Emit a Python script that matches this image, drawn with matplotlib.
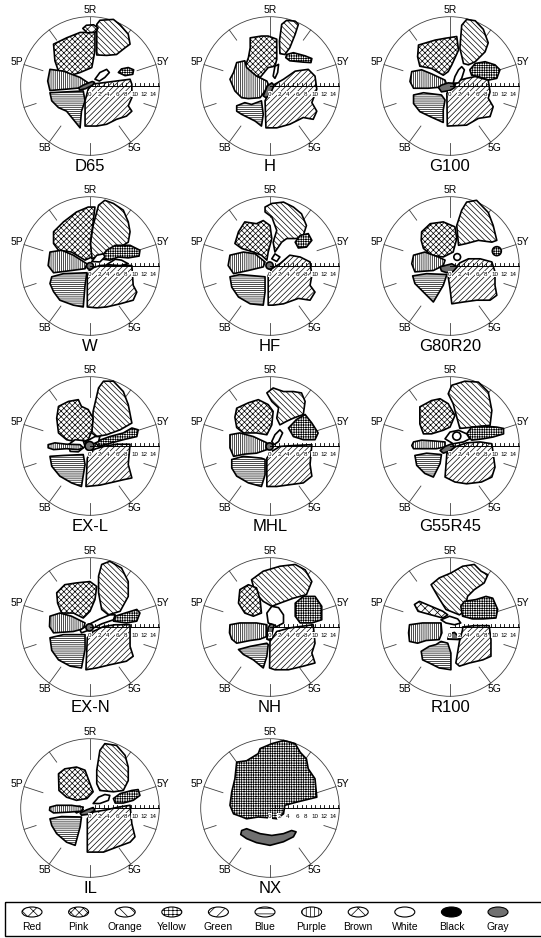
import numpy as np
import matplotlib
matplotlib.use('Agg')
import matplotlib.pyplot as plt
from matplotlib.patches import Polygon, Circle, Ellipse, Rectangle

plt.rcParams['font.family'] = ['Liberation Sans', 'DejaVu Sans']
plt.rcParams['hatch.linewidth'] = 0.5

# outer hue circle radius, in chroma units
R_MAX = 15.4

hue_labels = ['5R', '5Y', '5G', '5B', '5P']
hue_label_deg = [0, 72, 144, 216, 288]          # clockwise from the top
hue_tick_deg = list(range(0, 360, 36))
chroma_tick_values = list(range(1, 16))
chroma_label_values = [0, 2, 4, 6, 8, 10, 12, 14]

categories = ['Red', 'Pink', 'Orange', 'Yellow', 'Green', 'Blue',
              'Purple', 'Brown', 'White', 'Black', 'Gray']
hatch_of = {'Red': 'xxxx', 'Pink': 'xxxxxx', 'Orange': '\\' * 6, 'Yellow': '+' * 7,
            'Green': '/' * 6, 'Blue': '-' * 8, 'Purple': '|' * 8, 'Brown': 'xxx',
            'White': None, 'Black': None, 'Gray': None}
legend_hatch_of = {'Red': 'xxx', 'Pink': 'xxxx', 'Orange': '\\\\\\', 'Yellow': '++++',
                   'Green': '///', 'Blue': '---', 'Purple': '||||', 'Brown': 'xx',
                   'White': None, 'Black': None, 'Gray': None}
face_of = {'Black': 'black', 'Gray': '#707070'}

# regions per illuminant: (category, outline in chroma coordinates) or
# (category, (x, y, r)) for the small round ones
d65 = [
    ('Orange', [(1.5, 13.7), (2.2, 14.6), (5.2, 14.8), (6.7, 13.6), (8.5, 11.5), (8.9, 9.3),
                (7.8, 8.5), (5.9, 7.0), (3.7, 6.8), (1.5, 6.9)]),
    ('Pink', [(-8.1, 9.3), (-5.2, 10.7), (-2.2, 11.9), (1.1, 11.9), (1.1, 7.8), (0.4, 4.1),
              (-2.2, 3.0), (-4.8, 2.2), (-7.0, 3.3), (-7.8, 5.6)]),
    ('Red', [(-1.6, 12.8), (-0.8, 13.5), (0.8, 13.6), (1.8, 12.9), (1.2, 12.0), (-0.6, 11.8)]),
    ('Yellow', [(6.3, 3.0), (7.0, 3.8), (8.5, 4.1), (9.7, 3.6), (9.5, 2.6), (7.8, 2.3)]),
    ('Purple', [(-8.9, 3.7), (-5.9, 3.3), (-2.2, 1.9), (-0.4, 0.7), (-1.9, -0.4), (-5.2, -0.7),
                (-8.9, -1.0), (-9.4, 1.1)]),
    ('Blue', [(-8.9, -1.5), (-1.5, -1.1), (-1.1, -3.3), (-1.9, -5.6), (-2.2, -9.3), (-5.2, -5.6),
              (-7.0, -4.8), (-8.5, -3.3)]),
    ('Green', [(-0.4, -0.7), (0.4, 0.4), (8.9, 1.5), (9.3, 0.4), (9.3, -2.6), (8.5, -4.4),
               (9.3, -5.6), (8.1, -6.7), (5.9, -7.4), (3.7, -8.5), (1.5, -8.9), (-1.1, -8.9),
               (-1.1, -3.3)]),
    ('White', [(1.1, 1.5), (2.2, 3.0), (3.7, 3.7), (4.3, 3.0), (3.3, 1.9), (2.1, 1.1)]),
    ('Gray', [(-2.5, -0.4), (-1.5, 0.2), (0.5, 1.0), (1.0, 0.8), (0.6, 0.2), (-1.0, -0.6),
              (-2.3, -0.9)]),
]

h = [
    ('Orange', [(2.6, 13.7), (3.7, 14.6), (5.6, 14.4), (6.3, 13.7), (5.6, 11.5), (4.4, 8.5),
                (3.3, 7.0), (2.2, 7.2), (2.1, 10.0)]),
    ('Yellow', [(3.7, 7.0), (5.2, 7.4), (7.8, 6.7), (9.3, 6.1), (9.1, 5.2), (7.4, 5.3),
                (4.4, 5.6), (3.5, 6.3)]),
    ('Pink', [(-4.4, 10.7), (-1.9, 11.1), (-0.4, 11.1), (1.5, 10.4), (1.5, 5.9), (1.1, 4.4),
              (-0.4, 4.1), (-2.2, 1.9), (-4.1, 2.6), (-5.6, 4.1), (-4.8, 6.3), (-4.4, 8.5)]),
    ('Purple', [(-7.4, 5.2), (-5.6, 5.6), (-5.2, 4.1), (-3.0, 2.2), (-0.7, 1.1), (-0.4, 0.4),
                (-1.1, -1.1), (-2.2, -2.6), (-4.8, -2.8), (-6.3, -2.6), (-7.8, -1.1),
                (-8.9, 1.5), (-8.1, 3.0)]),
    ('Blue', [(-7.4, -4.4), (-5.6, -3.7), (-4.1, -4.1), (-1.9, -3.3), (-1.5, -6.3), (-1.9, -8.9),
              (-3.3, -7.8), (-6.3, -6.3), (-7.4, -5.6)]),
    ('Green', [(-1.1, -3.3), (0.4, 0.0), (3.0, 1.5), (5.6, 3.3), (8.5, 3.7), (10.0, 2.2),
               (10.4, -0.7), (9.3, -3.7), (10.4, -5.6), (9.6, -7.4), (7.4, -7.0), (4.4, -8.5),
               (1.5, -9.3), (-0.9, -9.3)]),
    ('White', [(0.7, 2.2), (1.1, 4.4), (1.9, 4.8), (1.7, 3.0), (1.1, 1.7)]),
    ('Gray', [(-1.5, -2.2), (-0.6, 0.0), (0.4, 0.7), (0.9, 0.2), (0.0, -2.0), (-0.9, -2.6)]),
]

g100 = [
    ('Orange', [(2.6, 13.5), (3.7, 14.8), (5.6, 14.5), (7.4, 12.6), (8.5, 9.6), (7.8, 7.6),
                (5.6, 5.4), (4.1, 4.7), (3.0, 5.0), (2.2, 8.4)]),
    ('Pink', [(-7.0, 9.1), (-3.3, 10.2), (-1.1, 10.6), (1.5, 11.0), (1.9, 8.0), (0.4, 4.7),
              (-0.4, 3.2), (-1.5, 2.4), (-4.1, 3.9), (-6.7, 4.4), (-7.2, 6.5)]),
    ('Yellow', [(4.4, 3.6), (5.6, 5.0), (7.8, 5.4), (10.0, 4.7), (11.1, 3.6), (10.4, 1.7),
                (8.5, 1.3), (6.3, 2.1), (4.8, 2.4)]),
    ('Purple', [(-8.5, 3.2), (-6.3, 3.6), (-4.1, 2.7), (-1.1, 1.3), (-0.7, 0.2), (-2.6, -0.3),
                (-4.8, -0.5), (-8.1, -0.5), (-8.9, 1.0)]),
    ('Blue', [(-8.1, -2.0), (-5.9, -1.5), (-1.9, -2.0), (-1.1, -3.1), (-1.5, -5.3), (-1.5, -8.1),
              (-4.4, -6.8), (-6.7, -5.7), (-8.1, -3.9)]),
    ('Green', [(-0.7, -1.6), (0.4, -0.3), (2.2, 1.3), (3.7, 1.7), (5.6, 2.1), (8.5, 1.3),
               (8.9, -1.3), (8.5, -2.7), (9.6, -4.6), (8.9, -6.8), (6.3, -7.2), (3.7, -8.7),
               (-0.6, -8.9)]),
    ('White', [(0.7, 0.6), (1.1, 2.1), (1.9, 3.6), (2.6, 4.3), (3.2, 3.6), (2.6, 1.7), (1.9, 0.7)]),
    ('Gray', [(-2.6, -0.3), (-1.9, 0.2), (-0.4, 0.7), (0.7, 0.6), (1.1, -0.3), (0.0, -1.0),
              (-1.9, -1.3)]),
]

w = [
    ('Orange', [(1.9, 13.5), (3.3, 14.6), (5.2, 13.9), (7.4, 12.4), (8.5, 9.8), (8.9, 7.6),
                (8.5, 5.3), (5.6, 3.5), (2.2, 2.4), (0.4, 1.6), (0.0, 4.6), (0.7, 9.0)]),
    ('Pink', [(-8.1, 7.6), (-5.9, 9.8), (-3.0, 12.0), (-0.4, 13.1), (1.1, 13.1), (0.7, 9.8),
              (0.1, 5.3), (0.4, 2.0), (-1.1, 1.3), (-4.1, 3.1), (-7.0, 3.5), (-8.1, 5.0)]),
    ('Yellow', [(2.2, 1.6), (3.7, 3.5), (5.6, 4.6), (8.9, 4.6), (11.1, 3.5), (10.9, 2.2),
                (8.5, 1.8), (6.3, 2.0), (4.4, 1.3)]),
    ('Purple', [(-8.9, 3.1), (-6.3, 3.5), (-3.7, 2.4), (-0.7, 0.5), (-1.1, -0.6), (-4.1, -1.0),
                (-8.1, -1.5), (-9.3, 0.1)]),
    ('Blue', [(-8.5, -2.4), (-5.9, -1.7), (-0.7, -1.5), (-1.1, -4.3), (-1.5, -9.1), (-3.7, -8.7),
              (-6.7, -7.6), (-8.1, -5.7), (-8.9, -3.9)]),
    ('Green', [(-0.6, -9.1), (-0.6, -2.1), (0.0, -0.6), (2.2, 0.1), (5.2, 0.3), (9.3, 0.1),
               (9.6, -4.3), (10.4, -5.8), (9.6, -7.6), (6.7, -8.4), (3.7, -9.1), (1.5, -9.3)]),
    ('White', [(0.4, 1.0), (1.5, 2.4), (3.0, 2.7), (3.3, 2.0), (2.2, 0.9)]),
    ('White', [(3.7, 0.3), (5.6, 1.5), (7.0, 1.3), (8.5, 0.5), (6.7, 0.1)]),
    ('Gray', (0.0, 0.0, 0.75)),
]

hf = [
    ('Orange', [(-1.1, 13.1), (0.4, 13.9), (3.0, 14.2), (5.2, 13.1), (7.0, 11.6), (8.1, 9.0),
                (7.4, 6.8), (5.9, 6.1), (3.7, 6.1), (2.6, 5.3), (1.1, 3.1), (0.7, 5.3),
                (1.5, 7.9), (0.4, 10.9), (-1.1, 12.0)]),
    ('Yellow', [(5.6, 5.3), (6.7, 6.8), (8.5, 7.2), (9.3, 5.7), (8.1, 4.2), (6.3, 4.0)]),
    ('Pink', [(-7.0, 7.6), (-5.6, 9.8), (-3.0, 9.4), (-1.5, 10.1), (0.0, 9.0), (0.4, 6.1),
              (-0.4, 3.1), (-0.7, 1.3), (-1.9, 2.4), (-3.7, 3.1), (-6.3, 3.9), (-7.8, 5.0)]),
    ('Purple', [(-8.9, 2.4), (-5.9, 3.1), (-3.3, 2.7), (-1.1, 0.9), (-1.5, -0.2), (-4.8, -1.0),
                (-8.1, -1.7), (-9.3, 0.1)]),
    ('Blue', [(-8.9, -2.4), (-6.7, -1.9), (-4.4, -2.1), (-1.1, -2.4), (-1.1, -5.8), (-1.5, -8.7),
              (-4.4, -8.4), (-7.0, -6.9), (-8.5, -4.7)]),
    ('Green', [(-0.4, -8.7), (-0.4, -2.1), (0.4, -0.6), (2.2, 0.5), (4.4, 2.4), (6.7, 2.0),
               (8.9, 0.9), (9.3, -2.1), (8.9, -4.3), (10.0, -5.8), (8.9, -7.6), (6.3, -7.2),
               (3.0, -8.4), (0.7, -8.7)]),
    ('White', [(0.4, 1.6), (1.1, 2.7), (2.2, 2.0), (1.5, 1.0)]),
    ('Gray', (-0.1, 0.1, 0.8)),
]

g80r20 = [
    ('Orange', [(1.5, 9.0), (2.6, 12.4), (3.7, 14.2), (5.9, 14.6), (8.5, 11.9), (9.6, 9.0),
                (10.4, 5.7), (9.3, 5.3), (6.3, 5.7), (3.7, 5.0), (1.9, 4.6)]),
    ('Pink', [(-6.3, 7.6), (-4.4, 9.4), (-1.5, 9.8), (1.1, 8.7), (1.5, 6.1), (0.7, 3.1),
              (-1.5, 2.0), (-4.1, 2.4), (-5.9, 3.9), (-6.4, 5.7)]),
    ('Yellow', (10.4, 3.3, 1.0)),
    ('Purple', [(-8.1, 2.4), (-5.6, 3.1), (-2.6, 2.0), (-1.1, 1.3), (-1.5, 0.1), (-3.7, -1.0),
                (-7.8, -1.3), (-8.5, 0.5)]),
    ('Blue', [(-8.3, -2.2), (-5.2, -1.7), (-0.7, -1.9), (-1.5, -4.3), (-3.7, -8.0), (-5.6, -6.1),
              (-7.8, -3.9)]),
    ('Green', [(-0.4, -2.4), (0.7, -1.0), (2.2, 0.7), (4.1, 1.6), (6.7, 1.6), (9.3, 0.9),
               (10.0, -1.3), (10.0, -4.3), (10.4, -6.5), (8.9, -7.6), (5.9, -7.6), (3.0, -8.0),
               (0.4, -8.4), (0.0, -5.0)]),
    ('White', (1.6, 2.0, 0.75)),
    ('Gray', [(-2.2, -0.2), (-1.1, 0.1), (0.4, 0.5), (1.6, -0.2), (0.7, -1.2), (-0.7, -1.5),
              (-1.9, -1.1)]),
]

ex_l = [
    ('Orange', [(0.4, 2.9), (0.7, 7.7), (1.9, 12.9), (3.0, 14.4), (5.2, 14.4), (7.4, 12.1),
                (8.5, 9.2), (9.3, 5.1), (6.7, 3.6), (3.7, 2.5), (1.5, 2.1)]),
    ('Pink', [(-7.0, 8.8), (-4.8, 9.9), (-2.6, 10.3), (-1.9, 8.8), (-0.4, 8.1), (0.7, 6.2),
              (0.4, 3.3), (-0.4, 1.4), (-2.2, 0.7), (-5.2, 1.4), (-7.0, 2.9), (-7.4, 6.2)]),
    ('Yellow', [(1.1, 0.9), (4.4, 2.1), (7.4, 2.9), (9.3, 4.0), (10.7, 3.6), (10.4, 2.1),
                (7.4, 1.4), (3.7, 0.4), (1.9, -0.1)]),
    ('Blue', [(-8.9, -2.3), (-5.9, -2.1), (-1.5, -1.9), (-1.1, -4.1), (-1.9, -9.0), (-4.1, -8.2),
              (-6.7, -6.7), (-8.5, -4.5)]),
    ('Green', [(-0.9, -9.0), (-0.6, -2.7), (0.7, -0.8), (3.0, -0.1), (5.9, 0.4), (8.9, 0.4),
               (8.5, -4.1), (9.3, -7.1), (7.4, -7.5), (4.4, -8.2), (2.2, -8.7)]),
    ('White', [(-4.8, 0.3), (-3.3, 1.4), (-1.5, 1.2), (-1.1, -0.1), (-2.6, -1.3), (-4.4, -1.2)]),
    ('Purple', [(-9.3, 0.3), (-7.8, 0.7), (-5.2, 0.4), (-2.2, 0.3), (-1.5, -0.4), (-2.6, -0.8),
                (-5.2, -0.6), (-8.1, -0.8), (-9.3, -0.4)]),
    ('White', [(-1.1, 0.9), (1.1, 2.1), (2.2, 2.1), (1.9, 1.0), (0.4, 0.3)]),
    ('Gray', (-0.1, 0.0, 1.0)),
]

mhl = [
    ('Orange', [(-0.7, 11.8), (0.7, 12.9), (3.0, 12.1), (5.2, 12.1), (7.0, 11.8), (7.8, 9.9),
                (7.4, 7.0), (5.2, 6.2), (3.7, 5.5), (2.2, 4.7), (1.5, 6.2), (1.9, 8.5),
                (0.4, 9.9)]),
    ('Yellow', [(4.1, 4.0), (5.9, 5.9), (7.8, 7.0), (9.3, 5.1), (10.7, 2.9), (10.0, 1.4),
                (7.4, 1.4), (5.2, 2.1)]),
    ('Pink', [(-7.4, 8.4), (-4.8, 9.6), (-2.6, 10.3), (-0.4, 9.2), (0.7, 7.7), (0.4, 4.7),
              (-0.7, 2.5), (-3.0, 2.9), (-5.9, 2.9), (-7.4, 4.1), (-7.8, 6.4)]),
    ('Purple', [(-8.9, 2.5), (-6.7, 2.9), (-3.7, 2.1), (-0.7, 0.7), (-0.7, -0.8), (-3.0, -1.6),
                (-5.6, -1.8), (-8.1, -2.3), (-8.9, -0.4)]),
    ('Blue', [(-8.5, -3.0), (-5.9, -2.3), (-1.9, -2.7), (-1.1, -3.0), (-1.1, -6.4), (-1.9, -9.0),
              (-4.8, -8.2), (-7.4, -6.7), (-8.5, -4.9)]),
    ('Green', [(-0.7, -9.0), (-0.7, -2.7), (0.4, -1.2), (2.2, -0.1), (5.2, 0.1), (9.3, 0.3),
               (8.9, -4.1), (9.3, -6.7), (7.4, -8.2), (4.4, -8.6), (1.5, -9.0)]),
    ('White', [(0.4, 1.0), (1.1, 2.5), (2.2, 3.6), (2.8, 2.9), (1.9, 1.0), (0.9, 0.3)]),
    ('Gray', (-0.1, -0.1, 0.8)),
]

g55r45 = [
    ('Orange', [(-0.4, 11.6), (0.4, 13.5), (3.3, 14.4), (6.3, 14.2), (8.5, 12.0), (9.3, 7.9),
                (8.9, 4.6), (5.2, 4.2), (2.2, 3.9), (1.5, 6.4), (0.7, 9.4)]),
    ('Pink', [(-6.7, 8.7), (-4.1, 10.1), (-2.2, 10.5), (-0.4, 9.4), (1.1, 6.8), (0.0, 4.2),
              (-1.5, 3.5), (-4.1, 2.7), (-5.9, 2.7), (-6.7, 4.9)]),
    ('Yellow', [(3.7, 2.7), (4.8, 4.2), (7.8, 4.4), (10.4, 4.2), (11.9, 3.9), (11.9, 2.7),
                (9.6, 2.0), (7.4, 1.6), (4.8, 1.3)]),
    ('Blue', [(-7.8, -2.1), (-5.2, -1.6), (-1.9, -1.9), (-2.2, -3.9), (-3.7, -6.9), (-5.6, -6.1),
              (-7.4, -4.3)]),
    ('Green', [(-1.1, -6.9), (-0.7, -1.7), (1.1, -0.2), (3.7, 0.7), (6.7, 0.9), (9.3, 0.5),
               (9.6, -1.7), (10.0, -4.7), (9.3, -6.9), (7.0, -8.0), (3.7, -8.4), (1.1, -8.0)]),
    ('White', [(-1.1, 1.6), (0.0, 3.1), (1.9, 3.5), (3.7, 2.7), (4.4, 1.6), (3.0, 0.9), (0.7, 0.5)]),
    ('White', (1.5, 2.2, 0.9)),
    ('Purple', [(-8.1, 0.9), (-6.3, 1.3), (-3.3, 1.1), (-1.1, 0.9), (-1.1, -0.2), (-3.0, -0.6),
                (-5.9, -0.6), (-8.1, -0.6), (-8.5, 0.1)]),
    ('Gray', [(-2.2, -1.0), (-1.1, -0.1), (0.4, 0.5), (1.1, -0.2), (0.0, -1.1), (-1.5, -1.6)]),
]

ex_n = [
    ('Orange', [(1.9, 11.3), (2.6, 13.9), (4.4, 14.6), (7.0, 13.1), (8.5, 10.1), (8.5, 6.8),
                (6.7, 3.5), (4.1, 2.7), (2.6, 3.9), (1.9, 7.6)]),
    ('Pink', [(-7.4, 7.6), (-5.6, 9.4), (-3.0, 9.8), (0.0, 10.1), (1.5, 9.0), (1.1, 6.1),
              (0.0, 3.5), (-1.5, 2.0), (-3.7, 3.1), (-6.3, 3.1), (-7.2, 5.3)]),
    ('Yellow', [(5.2, 1.3), (5.6, 2.4), (7.8, 3.1), (10.4, 3.9), (11.1, 3.1), (10.4, 1.3),
                (8.1, 0.9)]),
    ('Purple', [(-8.9, 2.4), (-6.7, 3.1), (-4.1, 2.4), (-1.1, 0.9), (-1.5, -0.4), (-3.7, -1.0),
                (-8.1, -1.3), (-9.0, 0.1)]),
    ('Blue', [(-8.9, -2.4), (-5.9, -1.7), (-1.1, -1.7), (-1.1, -5.0), (-1.9, -9.1), (-4.4, -8.7),
              (-7.0, -7.3), (-8.5, -5.2)]),
    ('Green', [(-0.9, -9.5), (-0.6, -2.4), (0.7, -1.0), (3.0, 0.1), (5.6, 0.5), (8.9, 0.5),
               (8.9, -4.3), (9.6, -6.5), (8.1, -7.6), (4.4, -8.4), (1.5, -9.1)]),
    ('White', [(-2.2, -0.7), (-0.4, 0.5), (2.2, 1.8), (4.4, 2.7), (5.6, 2.7), (5.2, 1.6),
               (2.6, 0.7), (0.0, -0.6), (-1.9, -1.3)]),
    ('Gray', (-0.1, -0.1, 0.8)),
]

nh = [
    ('Orange', [(-4.1, 10.5), (-1.5, 12.4), (2.2, 13.5), (5.6, 13.9), (7.8, 12.7), (9.3, 10.1),
                (8.1, 7.2), (5.2, 6.4), (2.2, 5.3), (0.4, 4.6), (-1.5, 5.7), (-3.3, 7.6)]),
    ('Pink', [(-6.7, 8.3), (-4.8, 9.4), (-3.0, 8.7), (-2.2, 6.1), (-1.9, 3.1), (-3.7, 2.4),
              (-5.6, 3.1), (-7.0, 5.3)]),
    ('Yellow', [(5.6, 5.3), (7.4, 6.8), (10.0, 6.8), (11.5, 4.6), (11.5, 1.6), (9.3, 0.9),
                (6.7, 0.9), (5.6, 2.4)]),
    ('White', [(-0.7, 3.1), (0.4, 4.6), (1.9, 4.3), (3.0, 2.7), (3.0, 0.9), (1.5, 0.1), (-0.4, 0.9)]),
    ('Purple', [(-8.9, 0.5), (-6.7, 0.9), (-3.0, 0.9), (-0.7, 0.5), (-0.7, -2.1), (-2.2, -2.7),
                (-4.4, -3.0), (-7.4, -3.6), (-8.5, -2.7), (-9.0, -1.3)]),
    ('Blue', [(-7.0, -5.0), (-4.4, -4.3), (-0.7, -3.6), (-0.4, -3.9), (-0.7, -6.5), (-1.5, -9.1),
              (-3.7, -7.3), (-5.9, -6.1)]),
    ('Green', [(-0.1, -9.1), (0.0, -3.2), (1.5, -1.0), (4.4, -0.2), (9.6, 0.5), (10.0, -3.6),
               (9.3, -5.8), (10.0, -8.0), (7.4, -8.7), (4.1, -9.5), (1.1, -9.5)]),
    ('Gray', [(-0.7, -2.7), (-0.4, -0.2), (0.1, 0.7), (0.9, 0.5), (0.4, -1.7), (0.0, -3.0)]),
]

r100 = [
    ('Orange', [(-4.2, 9.4), (-2.4, 10.9), (0.2, 12.0), (2.8, 13.5), (5.4, 13.9), (6.9, 12.4),
                (8.4, 11.6), (7.6, 9.8), (5.4, 8.3), (3.9, 6.8), (3.2, 3.5), (2.1, 2.7),
                (-0.9, 3.9), (-2.7, 6.8)]),
    ('Yellow', [(2.4, 4.6), (3.2, 5.7), (5.8, 6.1), (8.0, 6.8), (9.5, 6.4), (10.6, 3.9),
                (10.2, 2.0), (7.3, 1.8), (5.0, 1.8), (2.8, 2.4)]),
    ('Red', [(-7.9, 5.0), (-6.8, 5.7), (-4.2, 4.6), (-1.6, 3.5), (-0.5, 2.7), (-1.6, 2.0),
             (-4.2, 2.7), (-7.1, 3.5)]),
    ('White', [(-2.0, 1.6), (-0.1, 2.4), (1.7, 1.8), (2.4, 0.9), (1.0, 0.5), (-0.9, 0.9)]),
    ('Purple', [(-9.0, 0.5), (-6.1, 0.9), (-2.0, 0.9), (-1.8, -1.3), (-2.4, -2.8), (-5.3, -3.0),
                (-7.2, -3.6), (-9.0, -3.2), (-9.2, -1.3)]),
    ('Blue', [(-6.4, -5.4), (-4.6, -4.3), (-3.1, -3.9), (-2.0, -3.2), (-0.5, -3.6), (0.2, -5.8),
              (0.2, -9.5), (-2.4, -9.1), (-4.6, -8.0), (-6.1, -7.3)]),
    ('Green', [(1.3, -8.0), (2.1, -3.2), (2.8, -0.6), (2.8, 0.0), (5.4, 0.3), (8.7, 0.3),
               (9.1, -2.8), (9.1, -6.5), (7.3, -7.3), (4.3, -8.0), (2.1, -8.7)]),
    ('Gray', [(-0.5, -2.7), (-0.1, -1.5), (1.0, -1.2), (1.9, -2.1), (2.1, -2.8)]),
]

il = [
    ('Orange', [(1.5, 8.4), (2.2, 12.8), (3.3, 14.3), (5.9, 13.9), (7.8, 11.7), (8.5, 9.1),
                (8.5, 6.1), (7.4, 3.9), (5.2, 3.6), (2.2, 3.9), (1.5, 5.4)]),
    ('Pink', [(-7.0, 7.6), (-5.6, 8.7), (-3.0, 9.1), (-1.1, 8.4), (0.0, 5.4), (0.7, 3.6),
              (-0.7, 2.1), (-3.0, 1.7), (-5.2, 2.4), (-6.9, 3.9)]),
    ('Yellow', [(5.2, 2.1), (6.7, 3.2), (9.3, 3.9), (10.7, 4.1), (11.1, 2.8), (9.6, 1.7),
                (7.4, 1.1), (5.6, 1.1)]),
    ('Blue', [(-8.9, -2.4), (-6.3, -1.9), (-1.9, -2.0), (-2.2, -4.2), (-3.3, -8.3), (-5.2, -7.6),
              (-7.4, -5.7), (-8.5, -3.9)]),
    ('Green', [(-0.6, -9.8), (-0.6, -2.4), (0.7, -0.9), (3.7, -0.4), (6.3, 0.2), (8.9, 0.6),
               (9.3, -3.5), (10.0, -6.4), (8.9, -7.6), (5.9, -8.7), (3.0, -9.8)]),
    ('White', [(0.7, 1.0), (1.9, 2.4), (3.3, 3.0), (4.4, 2.8), (4.1, 1.7), (2.2, 1.0)]),
    ('White', [(-4.1, 0.1), (-2.2, 0.4), (-1.5, -0.4), (-3.0, -1.1)]),
    ('Purple', [(-8.9, 0.2), (-7.4, 0.6), (-4.1, 0.6), (-1.5, 0.2), (-1.9, -0.7), (-4.4, -0.9),
                (-8.1, -1.1), (-9.0, -0.5)]),
    ('Gray', [(-2.2, -1.1), (-0.7, -0.4), (0.7, 0.1), (1.1, -0.5), (-0.4, -1.4), (-1.9, -1.6)]),
]

nx = [
    ('Yellow', [(-8.9, 0.6), (-8.5, 3.6), (-7.8, 6.5), (-7.4, 10.2), (-5.2, 10.5), (-2.6, 12.1),
                (-2.2, 13.2), (0.4, 14.3), (3.0, 15.0), (5.6, 14.3), (6.7, 12.4), (8.1, 10.9),
                (8.5, 8.7), (10.0, 6.5), (10.4, 2.4), (5.9, 1.3), (3.3, 0.6), (3.0, -1.3),
                (1.5, -2.4), (0.0, -2.2), (-2.6, -2.0), (-5.2, -2.4), (-6.7, -1.8), (-8.1, -1.3)]),
    ('Gray', [(-6.3, -5.0), (-5.2, -4.6), (-2.2, -5.7), (0.4, -6.1), (3.0, -5.7), (4.8, -5.0),
              (5.8, -5.3), (5.2, -6.4), (3.0, -7.5), (0.0, -8.3), (-3.0, -7.7), (-5.2, -6.8),
              (-6.5, -5.9)]),
]

panel_names = ['D65', 'H', 'G100', 'W', 'HF', 'G80R20', 'EX-L', 'MHL', 'G55R45',
               'EX-N', 'NH', 'R100', 'IL', 'NX']
panel_regions = [d65, h, g100, w, hf, g80r20, ex_l, mhl, g55r45, ex_n, nh, r100, il, nx]

FIG_W, FIG_H = 541, 938
fig = plt.figure(figsize=(FIG_W / 100, FIG_H / 100), dpi=100)

col_x = [90, 270, 450]
row_y = [86, 266, 446, 627, 808]
HALF = 90   # half size of a panel box in pixels


def draw_panel(ax, name, regions):
    ax.set_xlim(-20, 20)
    ax.set_ylim(-20, 20)
    ax.set_aspect('equal')
    ax.axis('off')

    ax.add_patch(Circle((0, 0), R_MAX, fill=False, lw=0.6, ec='#404040', zorder=1))
    for d in hue_tick_deg:
        r0 = 11.0 if d in hue_label_deg else 12.6
        t = np.deg2rad(d)
        ax.plot([r0 * np.sin(t), R_MAX * np.sin(t)], [r0 * np.cos(t), R_MAX * np.cos(t)],
                lw=0.6, color='#404040', zorder=1)
    for lab, d in zip(hue_labels, hue_label_deg):
        t = np.deg2rad(d)
        ax.text(17.0 * np.sin(t), 17.0 * np.cos(t), lab, ha='center', va='center',
                fontsize=7.5)

    for cat, shape in regions:
        fc = face_of.get(cat, 'white')
        if len(shape) == 3 and not isinstance(shape[0], tuple):
            patch = Circle(shape[:2], shape[2])
        else:
            patch = Polygon(shape, closed=True, joinstyle='round')
        patch.set_facecolor(fc)
        patch.set_edgecolor('black')
        patch.set_linewidth(1.2)
        patch.set_hatch(hatch_of[cat])
        patch.set_zorder(3)
        ax.add_patch(patch)

    # chroma scale along the horizontal radius
    ax.plot([0, R_MAX], [0, 0], lw=0.7, color='black', zorder=6)
    for c in chroma_tick_values:
        ax.plot([c, c], [0, 0.6], lw=0.6, color='black', zorder=6)
    for c in chroma_label_values:
        ax.text(c, -1.8, str(c), ha='center', va='center', fontsize=4.5, zorder=7,
                bbox=dict(boxstyle='square,pad=0.1', fc='white', ec='none'))

    ax.text(0, -17.9, name, ha='center', va='center', fontsize=12)


for i, (name, regions) in enumerate(zip(panel_names, panel_regions)):
    cx = col_x[i % 3]
    cy = row_y[i // 3]
    ax = fig.add_axes([(cx - HALF) / FIG_W, 1 - (cy + HALF) / FIG_H,
                       2 * HALF / FIG_W, 2 * HALF / FIG_H])
    draw_panel(ax, name, regions)

# legend strip along the bottom
lax = fig.add_axes([0, 0, 1, 1])
lax.set_xlim(0, FIG_W)
lax.set_ylim(FIG_H, 0)
lax.axis('off')
lax.add_patch(Rectangle((5, 902), 560, 34, fill=False, lw=1.0, ec='black'))
for i, cat in enumerate(categories):
    x = 32 + 46.6 * i
    lax.add_patch(Ellipse((x, 912), 20, 10, fc=face_of.get(cat, 'white'), ec='black',
                          lw=0.8, hatch=legend_hatch_of[cat]))
    lax.text(x, 927, cat, ha='center', va='center', fontsize=7.5)

fig.savefig('out.png', dpi=100)
